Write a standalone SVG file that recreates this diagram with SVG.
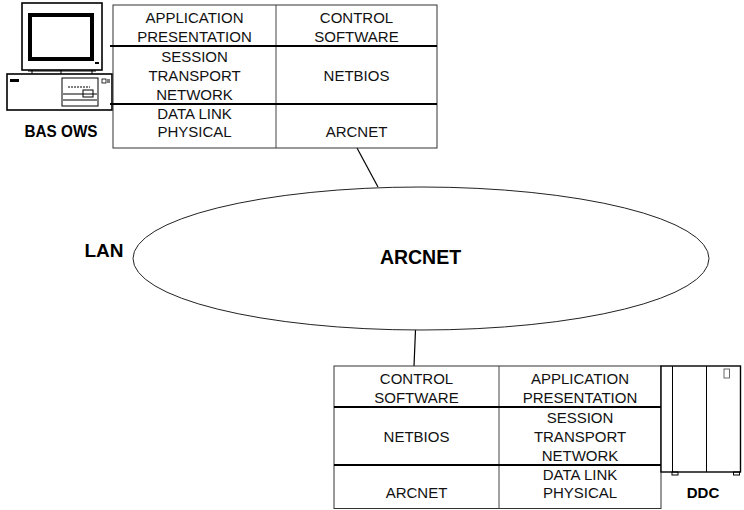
<svg xmlns="http://www.w3.org/2000/svg" width="744" height="510" viewBox="0 0 744 510">
  <style>
    .t { font-family: "Liberation Sans", Arial, sans-serif; font-size: 15px; fill: #111; text-anchor: middle; }
    .b { font-family: "Liberation Sans", Arial, sans-serif; font-weight: bold; fill: #000; text-anchor: middle; }
    .frame { fill: none; stroke: #333; stroke-width: 1; }
    .row { stroke: #000; stroke-width: 1.8; }
    .col { stroke: #444; stroke-width: 1; }
    .ln { fill: none; stroke: #000; stroke-width: 1.2; }
    .thin { fill: none; stroke: #000; stroke-width: 1; }
  </style>
  <rect width="744" height="510" fill="#fff"/>

  <!-- connectors between the protocol stacks and the LAN -->
  <g id="connectors">
    <line class="ln" x1="357" y1="148" x2="378" y2="187"/>
    <line class="ln" x1="415.5" y1="330" x2="414" y2="366"/>
  </g>

  <!-- workstation icon -->
  <g id="bas-ows">
    <rect x="22" y="3" width="80" height="67" fill="#fff" stroke="#000" stroke-width="1.6"/>
    <rect x="30" y="15" width="62" height="44" fill="none" stroke="#000" stroke-width="4"/>
    <rect x="95" y="62" width="4" height="2" fill="#000"/>
    <line class="thin" x1="28" y1="71" x2="96" y2="71"/>
    <line class="thin" x1="32" y1="70" x2="32" y2="74"/>
    <line class="thin" x1="61" y1="70" x2="61" y2="74"/>
    <line class="thin" x1="92" y1="70" x2="92" y2="74"/>
    <rect x="7" y="74" width="105" height="36" fill="#fff" stroke="#000" stroke-width="1.6"/>
    <rect x="10" y="79" width="9" height="3" fill="#000"/>
    <rect x="62" y="78" width="36" height="28" fill="none" stroke="#000" stroke-width="1"/>
    <line x1="68" y1="87" x2="90" y2="87" stroke="#000" stroke-width="1.2" stroke-dasharray="2 1"/>
    <line class="thin" x1="63" y1="94" x2="97" y2="94"/>
    <rect x="83" y="90" width="10" height="7" fill="none" stroke="#000" stroke-width="1"/>
    <line class="thin" x1="63" y1="100" x2="97" y2="100"/>
    <rect x="102" y="79" width="4" height="4" fill="none" stroke="#000" stroke-width="0.8"/>
    <line class="thin" x1="107" y1="80" x2="110" y2="80"/>
    <line class="thin" x1="107" y1="82" x2="110" y2="82"/>
    <text class="b" x="61" y="137" font-size="16" textLength="73" lengthAdjust="spacingAndGlyphs">BAS OWS</text>
  </g>

  <!-- workstation protocol stack -->
  <g id="ows-stack">
    <rect class="frame" x="113" y="5" width="324" height="143"/>
    <line class="col" x1="276" y1="5" x2="276" y2="148"/>
    <line class="row" x1="110" y1="46" x2="437" y2="46"/>
    <line class="row" x1="110" y1="104" x2="437" y2="104"/>
    <text class="t" x="194.5" y="23">APPLICATION</text>
    <text class="t" x="194.5" y="42">PRESENTATION</text>
    <text class="t" x="194.5" y="62">SESSION</text>
    <text class="t" x="194.5" y="81">TRANSPORT</text>
    <text class="t" x="194.5" y="100">NETWORK</text>
    <text class="t" x="194.5" y="119">DATA LINK</text>
    <text class="t" x="194.5" y="137">PHYSICAL</text>
    <text class="t" x="356.5" y="23">CONTROL</text>
    <text class="t" x="356.5" y="42">SOFTWARE</text>
    <text class="t" x="356.5" y="81">NETBIOS</text>
    <text class="t" x="356.5" y="137">ARCNET</text>
  </g>

  <!-- LAN cloud -->
  <g id="lan">
    <ellipse cx="421" cy="258.5" rx="288" ry="71.5" fill="none" stroke="#222" stroke-width="1"/>
    <text class="b" x="104" y="257" font-size="19">LAN</text>
    <text class="b" x="420.5" y="264" font-size="19.5">ARCNET</text>
  </g>

  <!-- controller protocol stack -->
  <g id="ddc-stack">
    <rect class="frame" x="334" y="366" width="327" height="142.5"/>
    <line class="col" x1="499" y1="366" x2="499" y2="508.5"/>
    <line class="row" x1="334" y1="407" x2="661" y2="407"/>
    <line class="row" x1="334" y1="465" x2="661" y2="465"/>
    <text class="t" x="416.5" y="384">CONTROL</text>
    <text class="t" x="416.5" y="403">SOFTWARE</text>
    <text class="t" x="416.5" y="442">NETBIOS</text>
    <text class="t" x="416.5" y="498">ARCNET</text>
    <text class="t" x="580" y="384">APPLICATION</text>
    <text class="t" x="580" y="403">PRESENTATION</text>
    <text class="t" x="580" y="423">SESSION</text>
    <text class="t" x="580" y="442">TRANSPORT</text>
    <text class="t" x="580" y="461">NETWORK</text>
    <text class="t" x="580" y="480">DATA LINK</text>
    <text class="t" x="580" y="498">PHYSICAL</text>
  </g>

  <!-- controller cabinet icon -->
  <g id="ddc">
    <rect x="661" y="366" width="79.5" height="106" fill="#fff" stroke="#000" stroke-width="1.4"/>
    <line class="thin" x1="672.5" y1="366" x2="672.5" y2="472"/>
    <line class="thin" x1="706.5" y1="366" x2="706.5" y2="472"/>
    <rect x="724" y="369" width="5.5" height="9" fill="none" stroke="#444" stroke-width="0.8"/>
    <rect x="672" y="472" width="6" height="3" fill="none" stroke="#000" stroke-width="1"/>
    <rect x="733.5" y="472" width="6" height="3" fill="none" stroke="#000" stroke-width="1"/>
    <text class="b" x="703" y="497.5" font-size="15">DDC</text>
  </g>
</svg>
